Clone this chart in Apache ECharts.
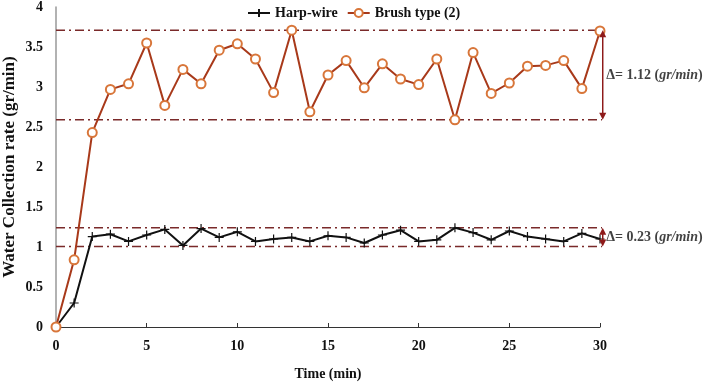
<!DOCTYPE html>
<html><head><meta charset="utf-8">
<script src="https://cdn.jsdelivr.net/npm/echarts@6/dist/echarts.min.js"></script>
<style>html,body{margin:0;padding:0;background:#fff}#c{width:708px;height:382px}</style>
</head><body><div id="c"></div>
<script>
var times = [0,1,2,3,4,5,6,7,8,9,10,11,12,13,14,15,16,17,18,19,20,21,22,23,24,25,26,27,28,29,30];
var harpWire = [0,0.30,1.13,1.16,1.07,1.15,1.22,1.02,1.23,1.12,1.19,1.07,1.10,1.12,1.07,1.14,1.12,1.05,1.15,1.21,1.07,1.09,1.24,1.18,1.09,1.20,1.13,1.10,1.07,1.17,1.10];
var brushType2 = [0,0.84,2.43,2.97,3.04,3.55,2.77,3.22,3.04,3.46,3.54,3.35,2.93,3.71,2.69,3.15,3.33,2.99,3.29,3.10,3.03,3.35,2.59,3.43,2.92,3.05,3.26,3.27,3.33,2.98,3.70];
var brushBand = [2.59, 3.71];
var harpBand = [1.005, 1.24];
var brushDeltaText = '1.12';
var harpDeltaText = '0.23';
var seriesNames = ['Harp-wire','Brush type (2)'];
var bandStartX = 0, bandEndX = 30.12, arrowX = 30.15;

var FONT = '"Liberation Serif","Times New Roman",serif';
var dashCol = '#7a2a2a';
var arrowCol = '#8e1a1a';
function pairs(xs, ys){ return xs.map(function(x,i){return [x, ys[i]];}); }
function bandSeries(y){
  return {type:'line',data:[[bandStartX,y],[bandEndX,y]],symbol:'none',clip:false,silent:true,z:2,
    lineStyle:{color:dashCol,width:1.5,type:[9,4,2,4]}};
}
var arrowData = [[arrowX, brushBand[0], brushBand[1]], [arrowX, harpBand[0], harpBand[1]]];
var arrowSeries = {
  type:'custom', silent:true, clip:false, z:5, data:arrowData,
  encode:{x:0, y:[1,2]},
  renderItem:function(params, api){
    var p0 = api.coord([api.value(0), api.value(1)]);
    var p1 = api.coord([api.value(0), api.value(2)]);
    var x = p0[0], h = 7, w = 3.5;
    return {type:'group', children:[
      {type:'line', shape:{x1:x, y1:p0[1]-h+1, x2:x, y2:p1[1]+h-1},
       style:{stroke:arrowCol, lineWidth:1.5}},
      {type:'polygon', shape:{points:[[x,p1[1]],[x-w,p1[1]+h],[x+w,p1[1]+h]]}, style:{fill:arrowCol}},
      {type:'polygon', shape:{points:[[x,p0[1]],[x-w,p0[1]-h],[x+w,p0[1]-h]]}, style:{fill:arrowCol}}
    ]};
  }
};
function labelSeries(lo,hi,txt){
  return {type:'scatter',clip:false,silent:true,symbolSize:1,itemStyle:{color:'rgba(0,0,0,0)'},
    data:[[arrowX,(lo+hi)/2]],
    label:{show:true, position:'right', distance:3, formatter:'{a|Δ= '+txt+' (}{b|gr/min}{a|)}',
      rich:{a:{fontFamily:FONT,fontWeight:'bold',fontSize:14,color:'#111'},
            b:{fontFamily:FONT,fontWeight:'bold',fontStyle:'italic',fontSize:14,color:'#111'}}}};
}
var s1 = {name:seriesNames[0],type:'line',data:pairs(times,harpWire),
     symbol:'path://M0,5L10,5M5,0L5,10',symbolSize:9,showAllSymbol:true,
     lineStyle:{color:'#111',width:2},
     itemStyle:{color:'#111',borderColor:'#111',borderWidth:1.2},z:3};
var s2 = {name:seriesNames[1],type:'line',data:pairs(times,brushType2),
     symbol:'emptyCircle',symbolSize:9,showAllSymbol:true,
     lineStyle:{color:'#a8391a',width:2},
     itemStyle:{color:'#d8763a',borderColor:'#d8763a',borderWidth:1},z:4};
var chart = echarts.init(document.getElementById('c'));
chart.setOption({
  animation:false,
  legend:{top:1, left:242, itemGap:9, itemWidth:22, itemHeight:10,
    textStyle:{fontFamily:FONT,fontWeight:'bold',fontSize:14,color:'#111'},
    data:seriesNames},
  grid:{left:56,right:108,top:7,bottom:55,containLabel:false,outerBoundsMode:'none'},
  xAxis:{type:'value',min:0,max:30,interval:5,
    name:'Time (min)',nameLocation:'middle',nameGap:40,nameMoveOverlap:false,
    nameTextStyle:{fontFamily:FONT,fontWeight:'bold',fontSize:14,color:'#111'},
    axisLine:{lineStyle:{color:'#333',width:1}},
    axisTick:{show:true,inside:true,length:4,lineStyle:{color:'#333'}},
    axisLabel:{fontFamily:FONT,fontWeight:'bold',fontSize:14,color:'#111',margin:12},
    splitLine:{show:false}},
  yAxis:{type:'value',min:0,max:4,interval:0.5,
    name:'Water Collection rate (gr/min)',nameLocation:'middle',nameGap:38,nameMoveOverlap:false,
    nameTextStyle:{fontFamily:FONT,fontWeight:'bold',fontSize:17,color:'#111'},
    axisLine:{show:true,lineStyle:{color:'#999',width:1.5}},
    axisTick:{show:false},
    axisLabel:{fontFamily:FONT,fontWeight:'bold',fontSize:14,color:'#111',margin:13},
    splitLine:{show:false}},
  series:[
    bandSeries(brushBand[0]), bandSeries(brushBand[1]),
    bandSeries(harpBand[0]), bandSeries(harpBand[1]),
    arrowSeries,
    labelSeries(brushBand[0],brushBand[1],brushDeltaText),
    labelSeries(harpBand[0],harpBand[1],harpDeltaText),
    s1, s2]
});
</script></body></html>
